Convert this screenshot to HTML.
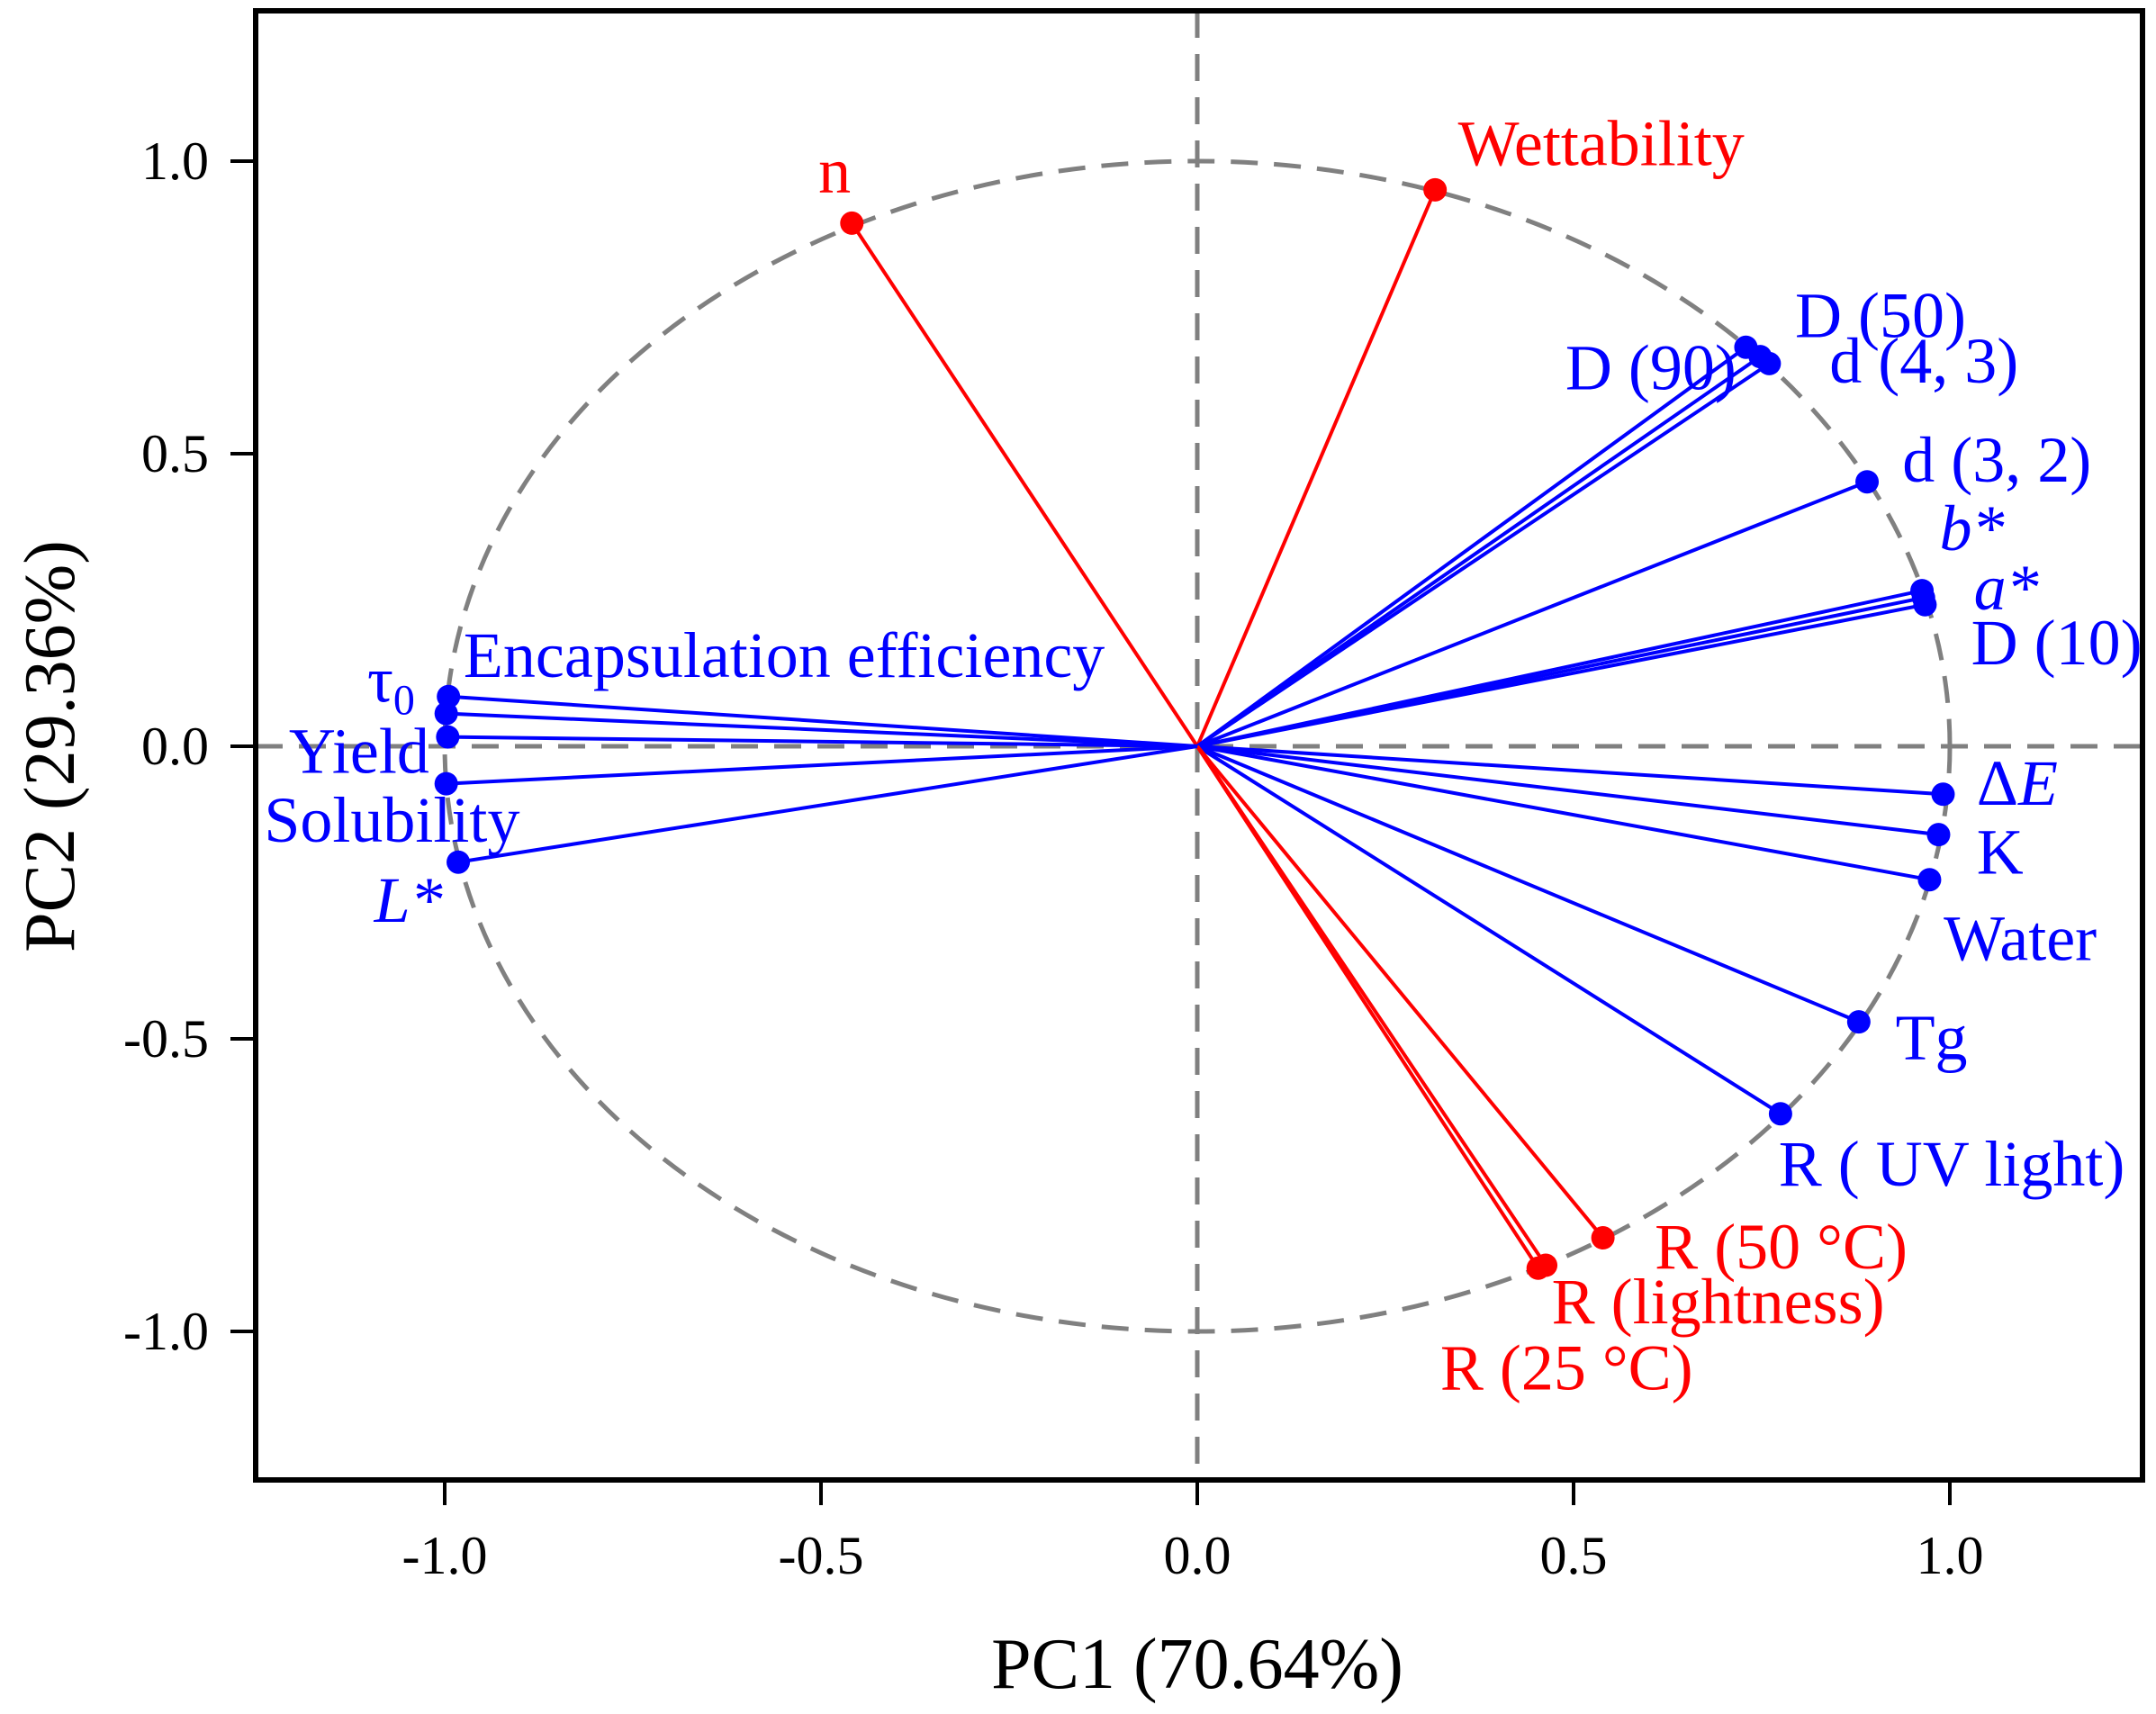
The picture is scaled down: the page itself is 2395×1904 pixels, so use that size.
<!DOCTYPE html>
<html><head><meta charset="utf-8"><style>
html,body{margin:0;padding:0;background:#fff;}
svg{display:block;font-family:"Liberation Serif",serif;}
</style></head><body>
<svg id="chart" width="2395" height="1904" viewBox="0 0 2395 1904">
<rect x="0" y="0" width="2395" height="1904" fill="#fff"/>
<g id="grid"></g><g id="marks"></g><g id="labels"></g><g id="axes"></g>
</svg>
<script>
const names = ["n","Wettability","D (90)","D (50)","d (4, 3)","d (3, 2)","b*","a*","D (10)","ΔE","K","Water","Tg","R ( UV light)","R (50 °C)","R (lightness)","R (25 °C)","Encapsulation efficiency","τ0","Yield","Solubility","L*"];
const pc1 = [-0.459,0.316,0.729,0.748,0.760,0.890,0.963,0.965,0.967,0.991,0.985,0.973,0.879,0.775,0.539,0.463,0.453,-0.998,-0.995,-0.996,-0.998,-0.982];
const pc2 = [0.894,0.951,0.682,0.666,0.654,0.452,0.266,0.254,0.242,-0.082,-0.151,-0.228,-0.471,-0.628,-0.840,-0.887,-0.892,0.056,0.085,0.016,-0.064,-0.198];
const groups = ["red","red","blue","blue","blue","blue","blue","blue","blue","blue","blue","blue","blue","blue","red","red","red","blue","blue","blue","blue","blue"];
const xTicks = [-1.0,-0.5,0.0,0.5,1.0];
const yTicks = [1.0,0.5,0.0,-0.5,-1.0];

const NS="http://www.w3.org/2000/svg";
const L=284,R=2380,T=12,B=1644;
const X=v=>1330+v*836;
const Y=v=>829-v*650;
function mk(tag,attrs,parent){const e=document.createElementNS(NS,tag);for(const k in attrs)e.setAttribute(k,attrs[k]);parent.appendChild(e);return e;}
const grid=document.getElementById('grid'),marks=document.getElementById('marks'),labels=document.getElementById('labels'),axes=document.getElementById('axes');
const dash={stroke:"#808080","stroke-width":5,"stroke-dasharray":"30 18",fill:"none"};
let e;
e=mk('line',Object.assign({x1:X(0),x2:X(0),y1:T,y2:B},dash),grid);


e=mk('line',Object.assign({x1:L,x2:R,y1:Y(0),y2:Y(0)},dash),grid);


e=mk('ellipse',Object.assign({cx:X(0),cy:Y(0),rx:X(1)-X(0),ry:Y(0)-Y(1)},dash),grid);



const col={red:"#ff0000",blue:"#0000ff"};
for(let i=0;i<names.length;i++){
  const c=col[groups[i]];
  e=mk('line',{x1:X(0),y1:Y(0),x2:X(pc1[i]),y2:Y(pc2[i]),stroke:c,"stroke-width":4},marks);
  
  
  e=mk('circle',{cx:X(pc1[i]),cy:Y(pc2[i]),r:13,fill:c},marks);
  
  
}

const S=1.528;
const lab=[
 ["n",595,140,"red",0],["Wettability",1060,120,"red",0],["D (90)",1138,283,"blue",0],["D (50)",1305,245,"blue",0],
 ["d (4, 3)",1330,278,"blue",0],["d (3, 2)",1383,350,"blue",0],["b*",1410,400,"blue",1],["a*",1435,443,"blue",1],
 ["D (10)",1433,483,"blue",0],["ΔE",1437,585,"blue",2],["K",1437,635,"blue",0],["Water",1413,698,"blue",0],
 ["Tg",1378,770,"blue",0],["R ( UV light)",1293,862,"blue",0],["R (50 °C)",1203,922,"red",0],["R (lightness)",1128,962,"red",0],
 ["R (25 °C)",1047,1010,"red",0],["Encapsulation efficiency",337,492,"blue",0],["τ0",267,510,"blue",3],["Yield",210,562,"blue",0],
 ["Solubility",192,612,"blue",0],["L*",272,670,"blue",1]];
lab.forEach(a=>{
  const t=mk('text',{x:a[1]*S,y:a[2]*S,fill:col[a[3]],"font-size":72},labels);
  if(a[4]===1){t.setAttribute('font-style','italic');t.textContent=a[0];}
  else if(a[4]===2){t.textContent="Δ";const s=mk('tspan',{"font-style":"italic"},t);s.textContent="E";}
  else if(a[4]===3){t.textContent="τ";const s=mk('tspan',{"font-size":48,dy:14},t);s.textContent="0";}
  else t.textContent=a[0];
  
  
});

e=mk('rect',{x:L,y:T,width:R-L,height:B-T,fill:"none",stroke:"#000","stroke-width":6},axes);


xTicks.forEach(v=>{
  e=mk('line',{x1:X(v),x2:X(v),y1:B,y2:B+28,stroke:"#000","stroke-width":4},axes);
  
  
  e=mk('text',{x:X(v),y:1748,"text-anchor":"middle","font-size":60,fill:"#000"},axes);
  e.textContent=v.toFixed(1);
  
  
});
yTicks.forEach(v=>{
  e=mk('line',{x1:L-28,x2:L,y1:Y(v),y2:Y(v),stroke:"#000","stroke-width":4},axes);
  
  
  e=mk('text',{x:232,y:Y(v)+20,"text-anchor":"end","font-size":60,fill:"#000"},axes);
  e.textContent=v.toFixed(1);
  
  
});
e=mk('text',{x:1330,y:1875,"text-anchor":"middle","font-size":80,fill:"#000"},axes);
e.textContent="PC1 (70.64%)";


e=mk('text',{x:0,y:0,"text-anchor":"middle","font-size":80,fill:"#000",transform:"translate(82,829) rotate(-90)"},axes);
e.textContent="PC2 (29.36%)";


</script>
</body></html>
